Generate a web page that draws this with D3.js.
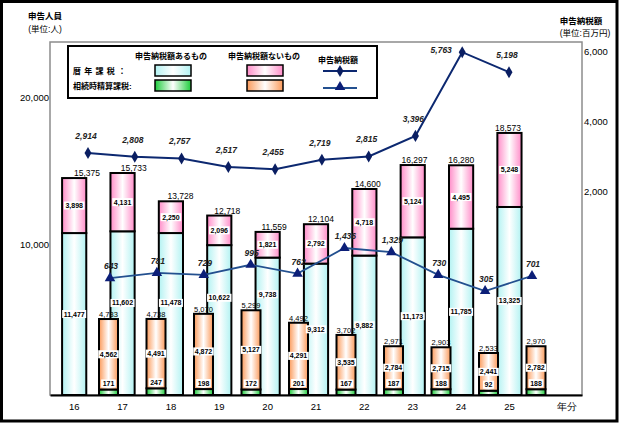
<!DOCTYPE html>
<html><head><meta charset="utf-8">
<script src="https://cdn.jsdelivr.net/npm/d3@7"></script>
<style>
body{margin:0;background:#fff}
svg{display:block;font-family:"Liberation Sans","Noto Sans CJK JP",sans-serif}
</style>
</head><body>
<svg id="c" width="620" height="425"></svg>
<script>
// ---- data ----
const years = ["16","17","18","19","20","21","22","23","24","25"];
const xLabels = [...years, "年分"];
// 暦年課税 (申告人員)
const calAri   = [11477,11602,11478,10622,9738,9312,9882,11173,11785,13325]; // 申告納税額あるもの
const calNashi = [3898,4131,2250,2096,1821,2792,4718,5124,4495,5248];       // 申告納税額ないもの
const calTotal = [15375,15733,13728,12718,11559,12104,14600,16297,16280,18573];
// 相続時精算課税 (申告人員)
const setAri   = [171,247,198,172,201,167,187,188,92,188];
const setNashi = [4562,4491,4872,5127,4291,3535,2784,2715,2441,2782];
const setTotal = [4733,4738,5070,5299,4492,3702,2971,2903,2533,2970];
// 申告納税額 (百万円)
const calTax = [2914,2808,2757,2517,2455,2719,2815,3396,5763,5198];
const setTax = [643,781,729,995,762,1436,1329,730,305,701];
const leftTicks = [10000,20000];
const rightTicks = [2000,4000,6000];

const fmt = d3.format(",");
const svg = d3.select("#c");

// gradients
const defs = svg.append("defs");
function grad(id, c){
  const g = defs.append("linearGradient").attr("id",id).attr("x1",0).attr("x2",1).attr("y1",0).attr("y2",0);
  g.append("stop").attr("offset","0").attr("stop-color",c);
  g.append("stop").attr("offset","0.5").attr("stop-color","#ffffff");
  g.append("stop").attr("offset","1").attr("stop-color",c);
}
grad("gCyan","#b2f2f2");
grad("gPink","#ff8cc8");
grad("gGreen","#1ecc3c");
grad("gOrange","#fb9a5a");

// outer frame
svg.append("rect").attr("x",1.5).attr("y",1.5).attr("width",615.5).attr("height",419.5)
  .attr("fill","none").attr("stroke","#000").attr("stroke-width",3);

// ---- scales ----
const xBand = d3.scaleBand().domain(xLabels).range([50,582]).paddingInner(0.5).paddingOuter(0.25);
const xSmall = d3.scalePoint().domain(years).range([108.5,536]);
const xCal = d3.scalePoint().domain(years).range([88,509]);
const xSet = d3.scalePoint().domain(years).range([110,532]);
const yBig = d3.scaleLinear().domain([0,20000]).range([395,112.8]);
const ySmall = d3.scaleLinear().domain([-186,5000]).range([395,314.9]);
const yCal = d3.scaleLinear().domain([0,6000]).range([256,43.8]);
const ySet = d3.scaleLinear().domain([0,1500]).range([302.6,245.6]);
const yAxisL = d3.scaleLinear().domain([0,20000]).range([391,97]);
const yAxisR = d3.scaleLinear().domain([2000,6000]).range([191,51]);
const smallW = 19;
const plotTop = 42;

// plot frame
svg.append("rect").attr("x",50).attr("y",plotTop).attr("width",532).attr("height",353)
  .attr("fill","#fff").attr("stroke","#8c8c8c").attr("stroke-width",1.5);

// axes
const gL = svg.append("g").attr("transform","translate(50,0)")
  .call(d3.axisLeft(yAxisL).tickValues(leftTicks).tickSize(0).tickPadding(1).tickFormat(fmt));
gL.select(".domain").remove();
gL.selectAll("text").attr("font-size",9.5).attr("font-family",null).attr("fill","#000");

const gR = svg.append("g").attr("transform","translate(582,0)")
  .call(d3.axisRight(yAxisR).tickValues(rightTicks).tickSize(0).tickPadding(2).tickFormat(fmt));
gR.select(".domain").remove();
gR.selectAll("text").attr("font-size",9.5).attr("font-family",null).attr("fill","#000");

// layer groups (drawing order)
const big = svg.append("g");
const small = svg.append("g");
const bigLab = svg.append("g");
const smallLab = svg.append("g");

// bars: 暦年課税
years.forEach((y,i)=>{
  const x = xBand(y), w = xBand.bandwidth();
  big.append("rect").attr("x",x).attr("width",w)
    .attr("y",yBig(calAri[i])).attr("height",yBig(0)-yBig(calAri[i]))
    .attr("fill","url(#gCyan)").attr("stroke","#000").attr("stroke-width",2);
  big.append("rect").attr("x",x).attr("width",w)
    .attr("y",yBig(calAri[i]+calNashi[i])).attr("height",yBig(calAri[i])-yBig(calAri[i]+calNashi[i]))
    .attr("fill","url(#gPink)").attr("stroke","#000").attr("stroke-width",2);
});

function boxLabel(g, x, y, txt, size){
  const gg = g.append("g");
  const r = gg.append("rect").attr("fill","#fff");
  const t = gg.append("text").attr("x",x).attr("y",y).attr("text-anchor","middle")
    .attr("dominant-baseline","central").attr("font-size",size).attr("font-weight","bold").text(txt);
  const w = t.node().getComputedTextLength();
  const h = size*1.15;
  r.attr("x",x-w/2-1.5).attr("y",y-h/2).attr("width",w+3).attr("height",h);
}

// bars: 相続時精算課税
const base = ySmall(ySmall.domain()[0]);
years.forEach((y,i)=>{
  const x = xSmall(y)-smallW/2;
  small.append("rect").attr("x",x).attr("width",smallW)
    .attr("y",ySmall(setAri[i])).attr("height",base-ySmall(setAri[i]))
    .attr("fill","url(#gGreen)").attr("stroke","#000").attr("stroke-width",2);
  small.append("rect").attr("x",x).attr("width",smallW)
    .attr("y",ySmall(setAri[i]+setNashi[i])).attr("height",ySmall(setAri[i])-ySmall(setAri[i]+setNashi[i]))
    .attr("fill","url(#gOrange)").attr("stroke","#000").attr("stroke-width",2);
});
const obstacles = [];
years.forEach((y,i)=>{
  const cx = xSmall(y);
  boxLabel(smallLab, cx, (ySmall(setAri[i])+ySmall(setAri[i]+setNashi[i]))/2, fmt(setNashi[i]), 7);
  boxLabel(smallLab, cx, ySmall(setAri[i])-6, fmt(setAri[i]), 7);
  const ty = ySmall(setTotal[i])-4.5;
  const tt = smallLab.append("text").attr("x",cx).attr("y",ty)
    .attr("text-anchor","middle").attr("dominant-baseline","central").attr("font-size",7.5).text(fmt(setTotal[i]));
  const w = tt.node().getComputedTextLength();
  // obstacle = small bar plus its total label
  obstacles.push({x0:Math.min(cx-w/2, cx-smallW/2), x1:Math.max(cx+w/2, cx+smallW/2), y0:ty-4.5, y1:base});
});

// labels inside 暦年課税 bars: centred in the segment, lifted above a neighbouring small bar if they would collide
const labSize = 7, labH = labSize*1.15;
years.forEach((y,i)=>{
  const cx = xBand(y)+xBand.bandwidth()/2;
  const probe = bigLab.append("text").attr("font-size",labSize).attr("font-weight","bold").text(fmt(calAri[i]));
  const w = probe.node().getComputedTextLength();
  probe.remove();
  let cy = (yBig(0)+yBig(calAri[i]))/2;
  obstacles.forEach(o=>{
    const ox = Math.min(cx+w/2, o.x1) - Math.max(cx-w/2, o.x0);
    const oy = Math.min(cy+labH/2, o.y1) - Math.max(cy-labH/2, o.y0);
    if(ox>1.5 && oy>-1) cy = o.y0 - 3 - labH/2;
  });
  boxLabel(bigLab, cx, cy, fmt(calAri[i]), labSize);
  boxLabel(bigLab, cx, (yBig(calAri[i])+yBig(calAri[i]+calNashi[i]))/2, fmt(calNashi[i]), labSize);
});

// totals of big bars
svg.append("g").selectAll("text").data(years).join("text")
  .attr("x",d=>xCal(d)-1).attr("y",(d,i)=>yBig(calTotal[i])-5)
  .attr("text-anchor","middle").attr("dominant-baseline","central").attr("font-size",8.5)
  .text((d,i)=>fmt(calTotal[i]));

// x axis
const gX = svg.append("g").attr("transform","translate(0,395)")
  .call(d3.axisBottom(xBand).tickSize(0).tickPadding(8));
gX.select(".domain").attr("stroke","#000").attr("stroke-width",2);
gX.selectAll("text").attr("font-size",9.5).attr("font-family",null).attr("fill","#000")
  .attr("dx",d=>d==="年分"?9:0);

// lines
const lineCal = d3.line().x((d,i)=>xCal(years[i])).y(d=>yCal(d));
const lineSet = d3.line().x((d,i)=>xSet(years[i])).y(d=>ySet(d));
svg.append("path").attr("d",lineSet(setTax)).attr("fill","none").attr("stroke","#23508f").attr("stroke-width",1.8);
svg.append("path").attr("d",lineCal(calTax)).attr("fill","none").attr("stroke","#0c2870").attr("stroke-width",2);
svg.append("g").selectAll("path").data(calTax).join("path")
  .attr("transform",(d,i)=>`translate(${xCal(years[i])},${yCal(d)})`)
  .attr("d",d3.symbol(d3.symbolDiamond,42)).attr("fill","#0a1e62");
svg.append("g").selectAll("path").data(setTax).join("path")
  .attr("transform",(d,i)=>`translate(${xSet(years[i])},${ySet(d)})`)
  .attr("d",d3.symbol(d3.symbolTriangle,48)).attr("fill","#0c1f78");

// line labels (a label that would leave the plot area goes to the left of its point)
const calLabX = (d,i)=> (yCal(d)-17 < plotTop+4) ? xCal(years[i])-21 : xCal(years[i])-2;
const calLabY = (d,i)=> (yCal(d)-17 < plotTop+4) ? yCal(d)-2 : yCal(d)-17;
svg.append("g").selectAll("text").data(calTax).join("text")
  .attr("x",calLabX).attr("y",calLabY)
  .attr("text-anchor","middle").attr("dominant-baseline","central")
  .attr("font-size",8.5).attr("font-weight","bold").attr("font-style","italic").attr("fill","#222")
  .text(d=>fmt(d));
svg.append("g").selectAll("text").data(setTax).join("text")
  .attr("x",(d,i)=>xSet(years[i])+1).attr("y",d=>ySet(d)-12)
  .attr("text-anchor","middle").attr("dominant-baseline","central")
  .attr("font-size",8.5).attr("font-weight","bold").attr("font-style","italic").attr("fill","#222")
  .text(d=>fmt(d));

// axis titles
const t = svg.append("g").attr("font-size",8.5).attr("font-weight","bold").attr("fill","#000");
t.append("text").attr("x",45).attr("y",16).attr("text-anchor","middle").attr("dominant-baseline","central").text("申告人員");
t.append("text").attr("x",45).attr("y",29).attr("text-anchor","middle").attr("dominant-baseline","central").attr("font-weight","normal").text("(単位:人)");
t.append("text").attr("x",581).attr("y",21).attr("text-anchor","middle").attr("dominant-baseline","central").text("申告納税額");
t.append("text").attr("x",585).attr("y",33).attr("text-anchor","middle").attr("dominant-baseline","central").attr("font-weight","normal").text("(単位:百万円)");

// legend
const lg = svg.append("g");
lg.append("rect").attr("x",68).attr("y",46).attr("width",309).attr("height",52)
  .attr("fill","#fff").attr("stroke","#000").attr("stroke-width",2);
const lt = lg.append("g").attr("font-size",8).attr("font-weight","bold").attr("dominant-baseline","central");
lt.append("text").attr("x",171).attr("y",56).attr("text-anchor","middle").text("申告納税額あるもの");
lt.append("text").attr("x",264).attr("y",56).attr("text-anchor","middle").text("申告納税額ないもの");
lt.append("text").attr("x",338).attr("y",60).attr("text-anchor","middle").text("申告納税額");
lt.append("text").attr("x",73).attr("y",71).text("暦 年 課 税 ：").attr("letter-spacing",0.5);
lt.append("text").attr("x",73).attr("y",86).text("相続時精算課税:");
[["gCyan",155,65],["gPink",247,65],["gGreen",155,80],["gOrange",247,80]].forEach(([g,x,y])=>{
  lg.append("rect").attr("x",x).attr("y",y).attr("width",36).attr("height",11)
    .attr("fill",`url(#${g})`).attr("stroke","#000").attr("stroke-width",1.5);
});
lg.append("line").attr("x1",323).attr("x2",357).attr("y1",71).attr("y2",71).attr("stroke","#0c2870").attr("stroke-width",2);
lg.append("path").attr("transform","translate(340,71)").attr("d",d3.symbol(d3.symbolDiamond,42)).attr("fill","#0a1e62");
lg.append("line").attr("x1",323).attr("x2",357).attr("y1",88).attr("y2",88).attr("stroke","#23508f").attr("stroke-width",2);
lg.append("path").attr("transform","translate(340,87)").attr("d",d3.symbol(d3.symbolTriangle,48)).attr("fill","#0c1f78");
</script>
</body></html>
